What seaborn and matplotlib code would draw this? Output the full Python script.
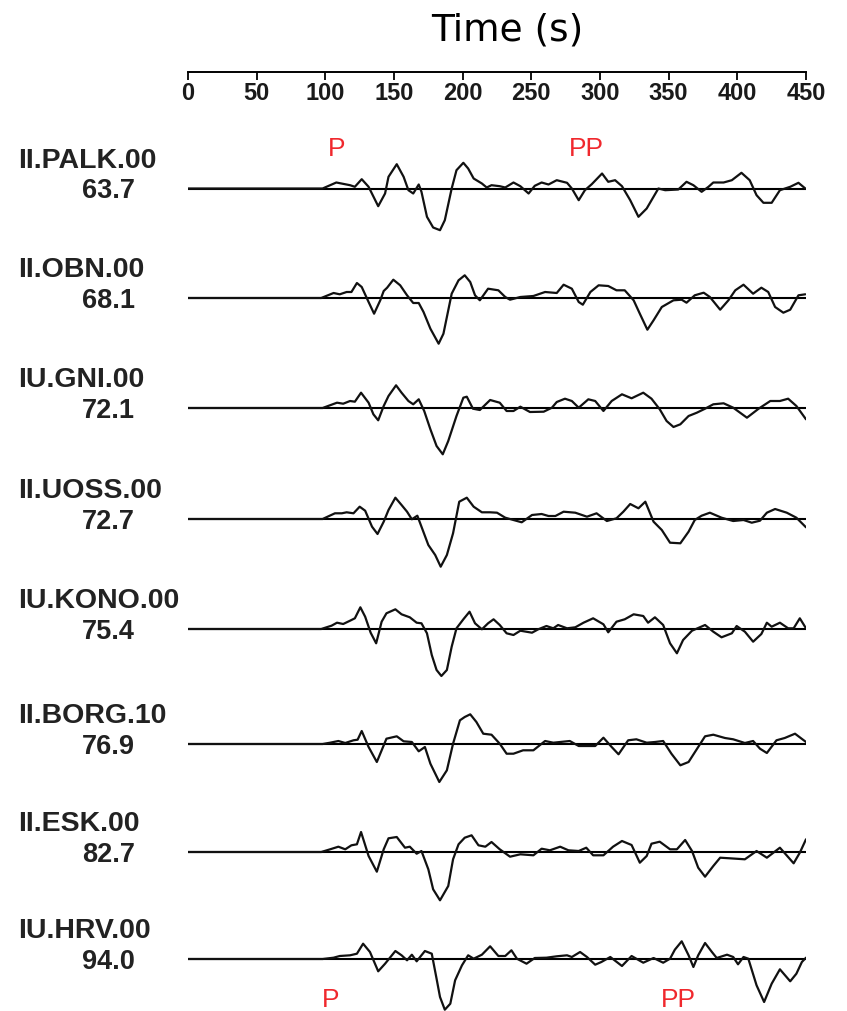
import matplotlib
matplotlib.use("Agg")
import matplotlib.pyplot as plt
import numpy as np
import pandas as pd
import seaborn as sns
from matplotlib.transforms import blended_transform_factory

# Station codes and epicentral distances (degrees)
stations = ["II.PALK.00", "II.OBN.00", "IU.GNI.00", "II.UOSS.00",
            "IU.KONO.00", "II.BORG.10", "II.ESK.00", "IU.HRV.00"]
distances = [63.7, 68.1, 72.1, 72.7, 75.4, 76.9, 82.7, 94.0]

# Displacement traces as (time s, amplitude) samples
palk = [(0, 0), (98, 0), (108, 6), (118, 3.3), (121.5, 1.7), (126.5, 9.3), (131.5, 1.7), (138.5, -17.7),
        (143.5, -5), (146, 11.7), (152, 24.3), (157, 11.7), (160.5, -1.7), (164, -5), (168, 4), (170, -3.3),
        (174, -28.3), (178.5, -39), (183.5, -41.7), (187, -31.7), (192, 0), (195.5, 18.3), (200.5, 25.7),
        (204, 20), (208, 10), (214, 5), (217.5, 1), (221, 3.3), (227, 2.3), (231, 1), (237, 6), (242, 2.3),
        (248, -5), (252.5, 2.7), (257.5, 6), (262.5, 4), (268.5, 8.3), (276, 5.7), (279.5, 0), (284.5, -11.7),
        (289, -1.7), (294, 4.3), (301.5, 15), (306, 6.7), (311, 8.3), (316, 2.3), (322, -11.7), (328, -28.3),
        (334, -20), (342.5, 0), (347.5, -1.7), (357, -1), (363, 6.7), (368, 3.3), (374, -3.3), (379, 1.7),
        (382.5, 6), (390, 6), (396, 8.3), (403, 15.7), (409, 8.3), (414, -6.7), (419, -14.3), (425, -14.3),
        (431, -1.7), (438.5, 1.7), (444.5, 5.7), (449.5, 0)]
obn = [(0, 0), (97, 0), (106, 5), (110.5, 3.7), (115.5, 6), (119, 6), (123, 15), (126.5, 11), (131.5, -4),
       (135.5, -15.7), (140, -2.3), (142.5, 7), (145, 10.3), (149.5, 18.3), (154.5, 12.7), (159.5, 2.7),
       (164, -5), (168, -5), (171.5, -14), (176.5, -30.7), (182.5, -45.7), (186, -35.7), (192, 4.3),
       (197, 17.7), (201.5, 22.7), (205.5, 16), (209, 2.7), (212.5, -2.3), (218.5, 9.3), (226, 7.7), (231, 1),
       (234.5, -1.7), (242, 1), (251.5, 2), (260, 6), (268.5, 5), (273.5, 13.3), (279.5, 9.3), (284.5, -4),
       (287.5, -6.7), (293, 6), (299, 12.7), (306, 12), (312, 7.7), (318, 7.7), (324.5, -2.3), (329, -15.7),
       (334.5, -31.7), (339, -22.3), (345, -9), (353.5, -2.3), (359.5, -1.7), (363, -4.7), (369, 2.7),
       (375.5, 5.3), (380, 1), (387.5, -11.7), (393.5, -2.3), (398.5, 7.7), (404.5, 13.3), (411.5, 4.3),
       (417.5, 10.3), (422.5, 6), (427.5, -9), (433.5, -14.7), (438.5, -11.7), (444.5, 2.7), (449.5, 3.7)]
gni = [(0, 0), (98, 0), (108.5, 5.3), (113, 4.3), (118, 7), (121.5, 6.3), (126, 15.3), (131.5, 5.3),
       (135, -6.3), (138.5, -12.3), (142.5, 2), (146, 12), (151.5, 22.7), (155.5, 15.3), (160.5, 7), (164, 3.7),
       (168, 8.7), (172, -3), (176.5, -21.3), (181, -38), (185.5, -46.3), (189.5, -33), (195.5, -8),
       (200.5, 10.3), (203, 11.3), (207.5, -0.7), (212.5, -2), (220, 8), (227, 5.3), (232, -3), (237, -3),
       (242, 1.3), (249, -4), (259, -3.7), (265, 0.3), (268.5, 6), (274.5, 9.3), (279.5, 7), (284.5, 0.3),
       (291.5, 8.7), (296.5, 7), (302.5, -3), (308.5, 7), (316, 13.7), (323, 9.7), (331.5, 15.3), (337.5, 9.3),
       (343.5, -1.3), (348.5, -13), (353.5, -19), (358.5, -16.3), (364.5, -8), (370.5, -4.7), (376.5, -0.7),
       (382.5, 3.7), (390, 4.7), (397, 0.3), (407, -9.7), (415.5, -0.7), (424, 7), (431, 7), (437, 9.3),
       (443, 2), (450, -11.3)]
uoss = [(0, 0), (98, 0), (107, 5.7), (112, 5.7), (115.5, 6.7), (120.5, 5.7), (125, 12.3), (129, 8.3),
        (134, -7.7), (138, -15), (142.5, -2.7), (146, 9), (151, 21.3), (155.5, 14), (159.5, 7.3), (163, -0.3),
        (167, 3.3), (170, -7.7), (175, -26), (180, -36), (184, -47.7), (188.5, -36), (193, -14.3),
        (197.5, 17.3), (203, 21.3), (208, 12.3), (214, 6.7), (220, 6.7), (225, 6.3), (231, 1.3), (237, -1),
        (243, -3.3), (250.5, 4), (257.5, 5), (262.5, 3), (267.5, 3), (273.5, 7.3), (282, 6.3), (290.5, 2.3),
        (297.5, 5.7), (305, -2), (312, 0.7), (317, 7.3), (322, 15), (328, 10.7), (333, 17.3), (339, -2.7),
        (345, -11), (351, -23.7), (358.5, -24.3), (364.5, -12.7), (369, -1), (374, 3.3), (380, 6.3),
        (388.5, 1.3), (397, -2), (404.5, -1), (410.5, -3.7), (416.5, -1.7), (421.5, 6.3), (427.5, 10),
        (436, 6.3), (443, 1.3), (450, -8.3)]
kono = [(0, 0), (97, 0), (104.5, 3.3), (108.5, 6.3), (113, 5), (118, 8.3), (121.5, 10.7), (125.5, 21.7),
        (129, 12.3), (133, -3.7), (137, -14.3), (141, 7.3), (144.5, 15.7), (151, 19.7), (155.5, 14.7),
        (161.5, 11.7), (166.5, 6.3), (170, 5.7), (174, -4.3), (177.5, -26), (181, -41), (184.5, -47),
        (188.5, -41), (192, -17.7), (195.5, 0.7), (200.5, 9.7), (205, 17.3), (209, 5.7), (214, -0.3),
        (218.5, 5.7), (222.5, 9.7), (227, 4), (232, -4.3), (237, -6), (242, -1.7), (250.5, -3.7), (255, -0.3),
        (261, 3), (266, 0.7), (269.5, 4), (276, 0.7), (282, 1.7), (288, 6.3), (295, 10.7), (302.5, 4.7),
        (306, -3.3), (312, 7.3), (318, 9.7), (324.5, 14.7), (331.5, 13), (335, 6.3), (340, 11.7), (346, 4),
        (351, -14.3), (356, -24.3), (360.5, -11), (367, -1.7), (376.5, 4), (382.5, -2.7), (388.5, -8.3),
        (396, -4.3), (399.5, 3), (405.5, -2.7), (411.5, -12.7), (417.5, -5), (421.5, 6.3), (425, 2.3),
        (431, 6.3), (437, 0.7), (441, 0.7), (445.5, 10.7), (450, 0.7)]
borg = [(0, 0), (98, 0), (103.5, 1.3), (109.5, 3), (114.5, 1), (120.5, 3.7), (123.5, 4.3), (126.5, 13),
        (131.5, -3), (137.5, -18), (144.5, 5.3), (152, 7.7), (157, 2.7), (163, 2), (168, -7.3), (172.5, -3),
        (176.5, -19.7), (183, -38), (188.5, -26.3), (193, 0.3), (198, 23.7), (201.5, 27), (205.5, 29.7),
        (210, 22), (215, 10.3), (221, 9.3), (227, 0.3), (232, -9.7), (237, -9.7), (244, -6.3), (251.5, -6.3),
        (260, 3), (266, 1.3), (278, 3), (284.5, -2), (296.5, -2), (302.5, 6.3), (308.5, -3), (313.5, -10.3),
        (320.5, 3.7), (326.5, 4.7), (334, 1.3), (340, 2), (346, 3), (352, -9.7), (358.5, -21.3), (364.5, -18),
        (371.5, -3), (376.5, 7.7), (382.5, 9.3), (391, 6), (397, 4.7), (405.5, 1), (411.5, 3), (416.5, -4.7),
        (421.5, -9), (428.5, 3.7), (434.5, 6), (442, 10.3), (450, 2)]
esk = [(0, 0), (97, 0), (103.5, 2.7), (109.5, 5.3), (114.5, 2.7), (119, 6.7), (123, 7.7), (126, 20),
       (131.5, -4), (137.5, -19.7), (142.5, 2.7), (146, 13.7), (152, 15), (158, 4.3), (161.5, 5.3),
       (166.5, -1.7), (170, 1), (175, -17.3), (178.5, -37.3), (183.5, -48.3), (189.5, -34), (193, -7.3),
       (197, 7.7), (201.5, 14.3), (206.5, 16.7), (211.5, 6.7), (216.5, 5.3), (221, 10), (227, 2.7),
       (234.5, -4.7), (242, -2.3), (251.5, -3.3), (257.5, 3.3), (263.5, 1.7), (271, 5.3), (277, 1.7),
       (284.5, 1), (290, 4.3), (295, -3.3), (302.5, -3.3), (309.5, 5.3), (316, 11), (323, 7), (329, -10.7),
       (334, -4), (337.5, 8.3), (343.5, 10.3), (351, 2.7), (356, 2.7), (362, 12), (367, 1), (371.5, -15.7),
       (376.5, -24.7), (382.5, -14), (387.5, -5.7), (394.5, -6.3), (405.5, -7.3), (414, 1), (421.5, -5.7),
       (431, 4.3), (441, -11.3), (445.5, -0.7), (450, 12.7)]
hrv = [(0, 0), (98, 0), (106, 1.3), (110.5, 3), (118, 3.7), (123, 5.3), (127.5, 15.3), (132.5, 7),
       (138.5, -12.3), (143.5, -4.7), (151, 8), (155.5, 3.7), (159.5, -1.3), (163, 4.3), (166.5, -2.3),
       (172.5, 8), (177.5, 5.3), (181, -19.7), (183.5, -38), (187, -50.7), (191, -44.7), (194.5, -21.3),
       (199.5, -6.3), (204, 3.7), (208, 0.3), (214, 4.3), (220, 12.7), (226, 3), (231, 3), (235.5, 8.7),
       (239.5, 0.3), (246.5, -4.7), (252.5, 1), (261, 1.3), (268.5, 2.7), (276, 3.7), (279.5, 2), (285.5, 7),
       (290.5, 2), (296.5, -5.7), (301, -3), (307.5, 2), (316, -7), (323, 3), (331.5, -3.7), (339, 1),
       (346, -3.7), (351, 0.3), (354.5, 9.3), (359.5, 17.7), (364.5, 3.7), (368, -8), (371.5, 3.7),
       (376.5, 16), (381.5, 7), (385, 1), (392.5, 4.3), (397, 2), (400.5, -5.3), (404.5, 2), (408, 0.3),
       (414, -26.3), (419.5, -43), (425, -24.7), (431, -10.3), (438.5, -22.3), (443, -14.7), (447, -3),
       (450, 1.3)]
traces = [palk, obn, gni, uoss, kono, borg, esk, hrv]

# Predicted phase arrivals (s) on the first and last trace
p_first, pp_first = 108, 290
p_last, pp_last = 104, 357

sns.set_theme(style="white")
plt.rcParams["font.family"] = ["Liberation Sans", "DejaVu Sans"]

W, H = 847, 1011
fig = plt.figure(figsize=(W / 100, H / 100), dpi=100)
ax = fig.add_axes([188 / W, 0, 618 / W, 939 / H])

# Vertical slot of each trace below the time axis
rows_y = [116.5, 226, 336, 447, 557, 672, 780, 887]
bases = [-r for r in rows_y]

rows = []
for name, base, tr in zip(stations, bases, traces):
    for t, a in tr:
        rows.append({"station": name, "time": t, "y": base + a})
df = pd.DataFrame(rows)

ax.hlines(bases, 0, 450, color="black", lw=1.5, zorder=2)
sns.lineplot(data=df, x="time", y="y", units="station", estimator=None, sort=False,
             color="#111111", lw=1.6, ax=ax, legend=False, zorder=3,
             solid_joinstyle="round", solid_capstyle="round")

ax.set_xlim(0, 450)
ax.set_ylim(-939, 0)
for side in ["left", "right", "bottom"]:
    ax.spines[side].set_visible(False)
ax.spines["top"].set_color("black")
ax.spines["top"].set_linewidth(1.4)
ax.set_xlabel("")
ax.set_ylabel("")
ax.set_yticks([])
ax.xaxis.tick_top()
ax.set_xticks(np.arange(0, 451, 50))
ax.tick_params(axis="x", direction="in", length=6, width=1.3, colors="black",
               pad=-24, labelsize=17, top=True, bottom=False, labeltop=True, labelbottom=False)
for lab in ax.get_xticklabels():
    lab.set_fontweight("bold")
    lab.set_color("#1a1a1a")

fig.text(507 / W, 1 - 30 / H, "Time (s)", ha="center", va="center", fontsize=27,
         family="DejaVu Sans", color="black")

trans = blended_transform_factory(fig.transFigure, ax.transData)
for name, dist, base in zip(stations, distances, bases):
    ax.text(18 / W, base + 28, name, transform=trans, ha="left", va="center",
            fontsize=20.5, fontweight="bold", color="#222222")
    ax.text(82 / W, base - 3, f"{dist:.1f}", transform=trans, ha="left", va="center",
            fontsize=19.5, fontweight="bold", color="#222222")

red = "#f0282d"
ax.text(p_first, bases[0] + 40, "P", color=red, ha="center", va="center", fontsize=19)
ax.text(pp_first, bases[0] + 40, "PP", color=red, ha="center", va="center", fontsize=19)
ax.text(p_last, bases[-1] - 41, "P", color=red, ha="center", va="center", fontsize=19)
ax.text(pp_last, bases[-1] - 41, "PP", color=red, ha="center", va="center", fontsize=19)

fig.savefig("out.png", dpi=100)
